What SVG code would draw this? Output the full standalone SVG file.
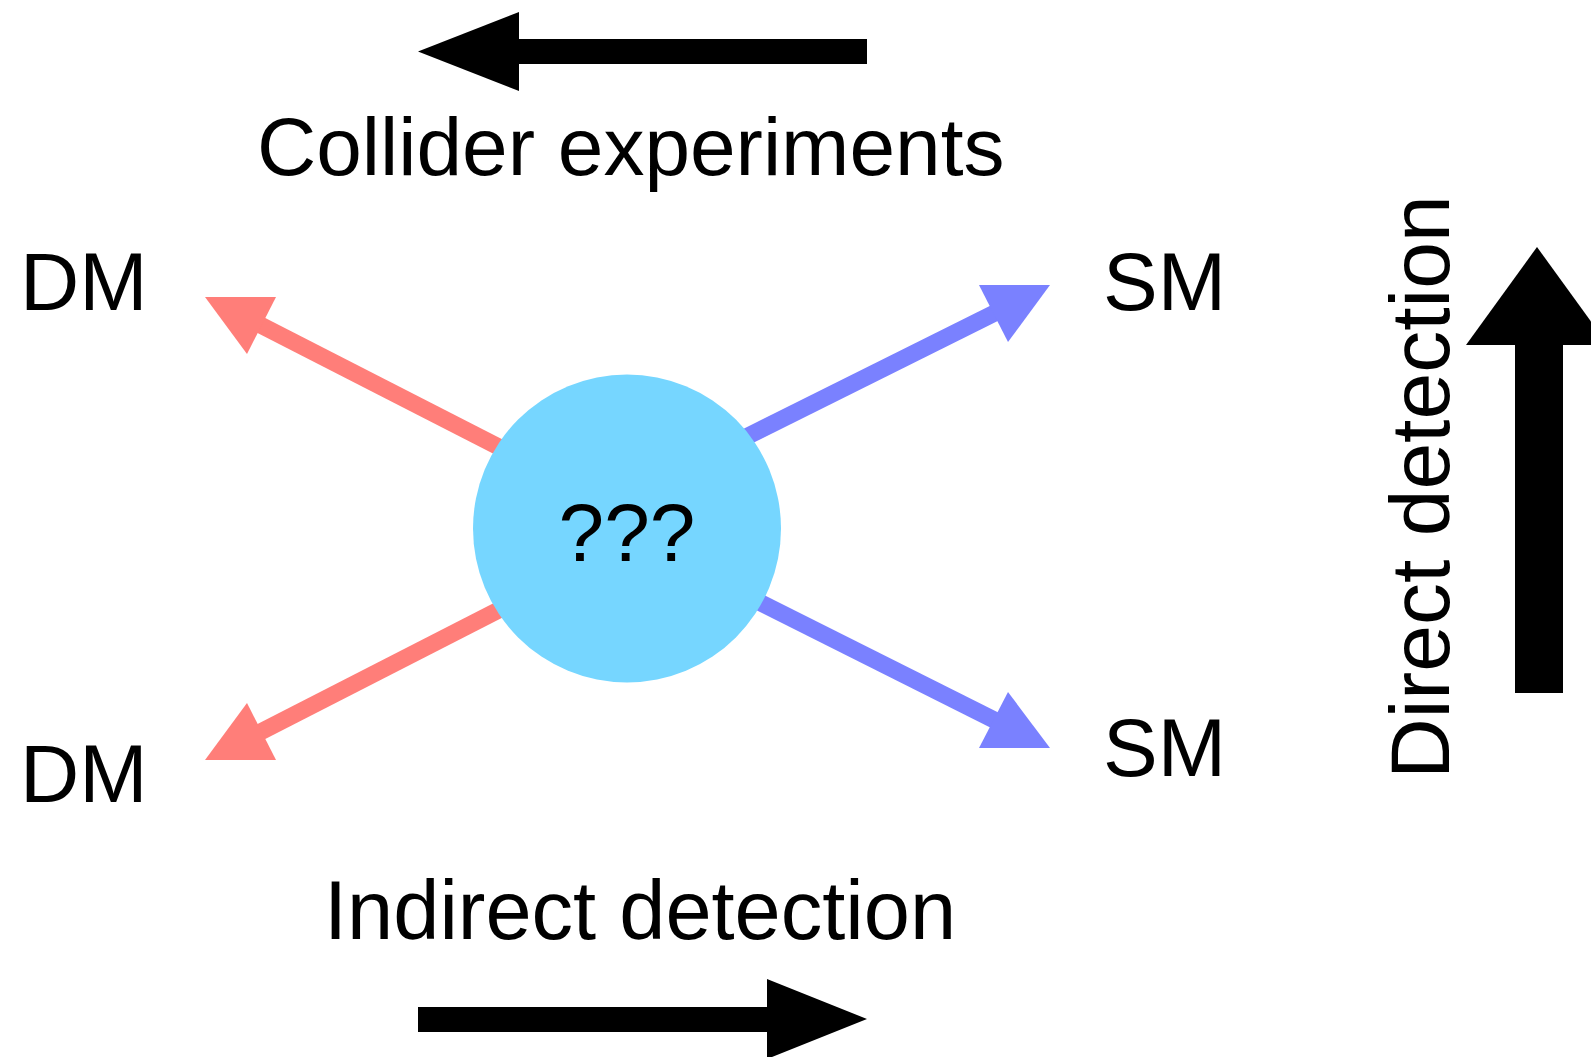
<svg xmlns="http://www.w3.org/2000/svg" width="1591" height="1057" viewBox="0 0 1591 1057">
<style>
.lbl{font-family:"Liberation Sans",Arial,Helvetica,sans-serif;font-size:82px;fill:#000}
.red{stroke:#FF7E79;stroke-width:17;fill:none}
.redh{fill:#FF7E79}
.blue{stroke:#7A81FF;stroke-width:17;fill:none}
.blueh{fill:#7A81FF}
.blk{fill:#000}
</style>
<rect width="1591" height="1057" fill="#fff"/>
<g id="collider-arrow">
<rect class="blk" x="516" y="39" width="351" height="25"/>
<polygon class="blk" points="418,51.5 519,12 519,91"/>
<text class="lbl" x="257" y="175">Collider experiments</text>
</g>
<g id="indirect-arrow">
<rect class="blk" x="418" y="1007" width="352" height="25"/>
<polygon class="blk" points="867,1019 767,979 767,1059"/>
<text class="lbl" x="324" y="939" style="font-size:83px">Indirect detection</text>
</g>
<g id="direct-arrow">
<rect class="blk" x="1515" y="342" width="48" height="351"/>
<polygon class="blk" points="1537,247 1466,345 1608,345"/>
<text class="lbl" transform="translate(1449,779) rotate(-90)" style="font-size:84px">Direct detection</text>
</g>
<g id="connectors">
<line class="red" x1="520" y1="457.8" x2="258" y2="323.7"/>
<polygon class="redh" points="205,297 276,297 247,354"/>
<line class="red" x1="520" y1="599.2" x2="258" y2="733.3"/>
<polygon class="redh" points="205,760 276,760 247,703"/>
<line class="blue" x1="725" y1="447.5" x2="997" y2="311.8"/>
<polygon class="blueh" points="1050,285 979,285 1008,342"/>
<line class="blue" x1="730" y1="587.5" x2="997" y2="721.3"/>
<polygon class="blueh" points="1050,748 979,748 1008,692"/>
</g>
<g id="node-center">
<circle cx="627" cy="528.5" r="154" fill="#76D6FF"/>
<text class="lbl" x="627" y="561" text-anchor="middle">???</text>
</g>
<g id="node-dm-top"><text class="lbl" x="20" y="310">DM</text></g>
<g id="node-dm-bottom"><text class="lbl" x="20" y="802">DM</text></g>
<g id="node-sm-top"><text class="lbl" x="1103" y="310">SM</text></g>
<g id="node-sm-bottom"><text class="lbl" x="1103" y="776">SM</text></g>
</svg>
